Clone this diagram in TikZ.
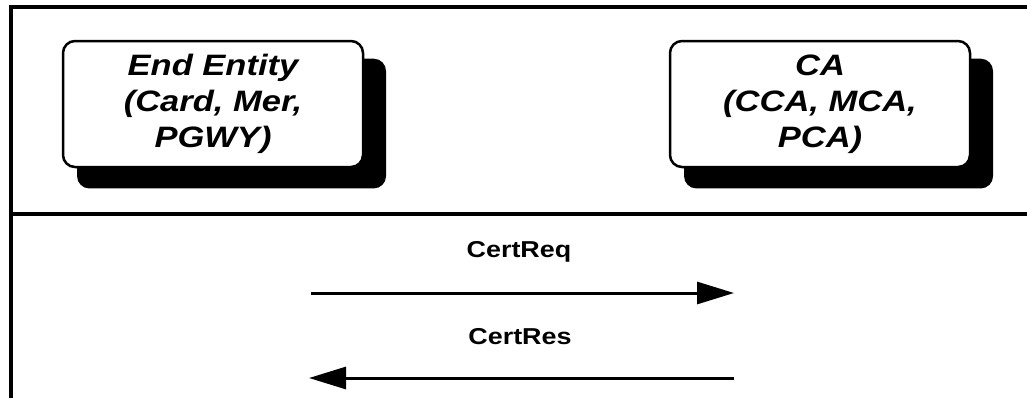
\documentclass[tikz,border=0pt]{standalone}
\usepackage{fontspec}
\setmainfont{Liberation Sans}[FakeStretch=1.17]
\usetikzlibrary{arrows.meta,shadows}
\begin{document}
\begin{tikzpicture}[x=1pt,y=-1pt,
  frameline/.style={line width=4pt},
  entity/.style={draw, fill=white, line width=2.5pt, rounded corners=12pt,
    minimum width=300pt, minimum height=126pt, inner sep=0pt,
    align=center, font=\fontsize{29.5}{36}\selectfont\bfseries\itshape,
    general shadow={fill=black, shadow xshift=18pt, shadow yshift=-19pt,
      shadow scale=1.03}},
  msg/.style={line width=3pt, -{Triangle[length=37pt,width=22pt]}},
  msglabel/.style={font=\fontsize{23}{27}\selectfont\bfseries, inner sep=0pt}]
  \useasboundingbox (0,0) rectangle (1027,397);

  % frame: top rule, left rule and the divider under the participants
  \coordinate (tl) at (11,6.5);
  \coordinate (tr) at (1027,6.5);
  \coordinate (bl) at (11,397);
  \coordinate (ml) at (11,214);
  \coordinate (mr) at (1027,214);
  \draw[frameline, line cap=rect] (tr) -- (tl) -- (bl);
  \draw[frameline] (ml) -- (mr);

  % participants
  \node[entity] (ee) at (213,104) {End Entity\\(Card, Mer,\\PGWY)};
  \node[entity] (ca) at (820,104) {CA\\(CCA, MCA,\\PCA)};

  % message endpoints
  \coordinate (req-from) at (311,293);
  \coordinate (req-to)   at (734,293);
  \coordinate (res-from) at (734,378);
  \coordinate (res-to)   at (309,378);

  \node[msglabel] (req) at (519,252) {CertReq};
  \node[msglabel] (res) at (520,337) {CertRes};

  \draw[msg] (req-from) -- (req-to);
  \draw[msg] (res-from) -- (res-to);
\end{tikzpicture}
\end{document}
